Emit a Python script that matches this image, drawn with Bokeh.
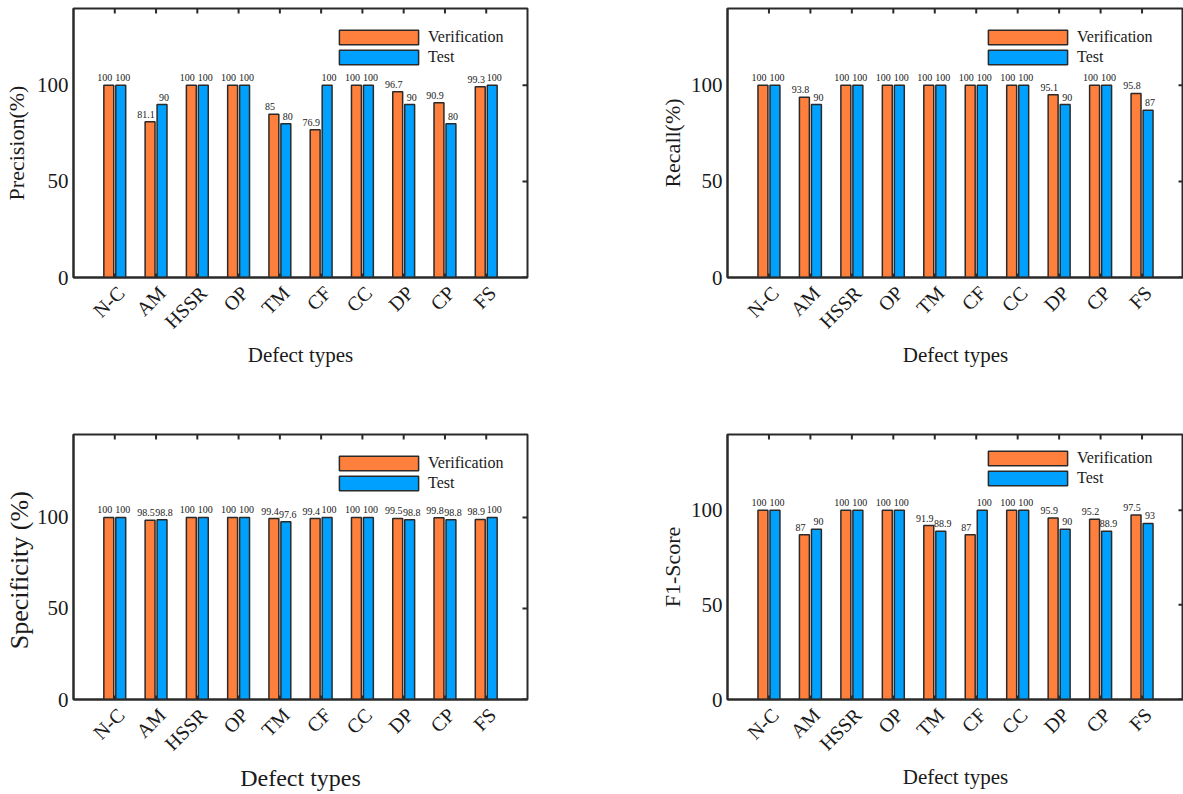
import numpy as np
from bokeh.plotting import figure
from bokeh.models import (ColumnDataSource, LinearAxis, FixedTicker, Range1d,
                          Legend, LegendItem)
from bokeh.transform import dodge
from bokeh.layouts import gridplot
from bokeh.embed import file_html
from bokeh.resources import INLINE
from bokeh.core.properties import value

# ---------------- data ----------------
categories = ["N-C", "AM", "HSSR", "OP", "TM", "CF", "CC", "DP", "CP", "FS"]
series_names = ["Verification", "Test"]

precision_verification = [100, 81.1, 100, 100, 85, 76.9, 100, 96.7, 90.9, 99.3]
precision_test = [100, 90, 100, 100, 80, 100, 100, 90, 80, 100]

recall_verification = [100, 93.8, 100, 100, 100, 100, 100, 95.1, 100, 95.8]
recall_test = [100, 90, 100, 100, 100, 100, 100, 90, 100, 87]

specificity_verification = [100, 98.5, 100, 100, 99.4, 99.4, 100, 99.5, 99.8, 98.9]
specificity_test = [100, 98.8, 100, 100, 97.6, 100, 100, 98.8, 98.8, 100]

f1_verification = [100, 87, 100, 100, 91.9, 87, 100, 95.9, 95.2, 97.5]
f1_test = [100, 90, 100, 100, 88.9, 100, 100, 90, 88.9, 93]

y_ticks = [0, 50, 100]
x_title = "Defect types"

# ---------------- style ----------------
ORANGE = "#FF7F3D"
BLUE = "#00A0FF"
EDGE = "#2a2a2a"
INK = "#1a1a1a"
SERIF = "Liberation Serif"
BAR_W = 0.24
OFF = 0.145
LABEL_SHIFT = 0.15   # rotated category labels end slightly right of the category centre


def fmt(v):
    return f"{v:g}"


def panel(ver, tst, ylabel, ymax, width, height, bl, br, bt, bb,
          ylab_size, xlab_size, ylab_standoff, xlab_standoff, leg_x,
          tick_standoff=12):
    n = len(categories)
    xs = list(range(1, n + 1))
    xmax = n + 1
    p = figure(width=width, height=height, output_backend="svg",
               toolbar_location=None, x_range=Range1d(0, xmax),
               y_range=Range1d(0, ymax), x_axis_type=None, y_axis_type=None,
               min_border_left=bl, min_border_right=br,
               min_border_top=bt, min_border_bottom=bb)
    p.xgrid.visible = False
    p.ygrid.visible = False
    p.outline_line_color = EDGE
    p.outline_line_width = 2
    p.background_fill_color = "white"
    p.border_fill_color = "white"

    src = ColumnDataSource(dict(
        x=xs, cat=categories, ver=ver, tst=tst,
        ver_lbl=[fmt(v) for v in ver], tst_lbl=[fmt(v) for v in tst]))

    r1 = p.vbar(x=dodge("x", -OFF, range=p.x_range), top="ver", width=BAR_W,
                source=src, fill_color=ORANGE, line_color=EDGE, line_width=1.5)
    r2 = p.vbar(x=dodge("x", OFF, range=p.x_range), top="tst", width=BAR_W,
                source=src, fill_color=BLUE, line_color=EDGE, line_width=1.5)

    p.text(x=dodge("x", -OFF, range=p.x_range), y="ver", text="ver_lbl",
           source=src, text_align="center", text_baseline="bottom",
           x_offset=-4, y_offset=-4, text_font=value(SERIF),
           text_font_size="10px", text_color=INK)
    p.text(x=dodge("x", OFF, range=p.x_range), y="tst", text="tst_lbl",
           source=src, text_align="center", text_baseline="bottom",
           x_offset=2, y_offset=-4, text_font=value(SERIF),
           text_font_size="10px", text_color=INK)

    # inward tick marks: top & bottom edge at categories, right edge at y ticks
    p.ray(x=xs, y=[ymax] * n, length=5, length_units="screen",
          angle=-np.pi / 2, line_color=EDGE, line_width=2)
    p.ray(x=xs, y=[0] * n, length=4, length_units="screen",
          angle=np.pi / 2, line_color=EDGE, line_width=2)
    p.ray(x=[xmax] * len(y_ticks), y=y_ticks, length=5, length_units="screen",
          angle=np.pi, line_color=EDGE, line_width=2)

    # bottom axis (category names)
    label_pos = [x + LABEL_SHIFT for x in xs]
    xa = LinearAxis(ticker=FixedTicker(ticks=label_pos),
                    major_label_overrides={x: c for x, c in zip(label_pos, categories)})
    xa.major_label_orientation = np.pi / 4
    xa.major_tick_in = 0
    xa.major_tick_out = 0
    xa.minor_tick_line_color = None
    xa.axis_line_width = 2
    xa.axis_line_color = EDGE
    xa.major_label_text_font = SERIF
    xa.major_label_text_font_size = "20px"
    xa.major_label_text_color = INK
    xa.major_label_standoff = tick_standoff
    xa.axis_label = x_title
    xa.axis_label_text_font = SERIF
    xa.axis_label_text_font_size = xlab_size
    xa.axis_label_text_font_style = "normal"
    xa.axis_label_text_color = INK
    xa.axis_label_standoff = xlab_standoff
    p.add_layout(xa, "below")

    # left axis
    ya = LinearAxis(ticker=FixedTicker(ticks=y_ticks))
    ya.major_tick_in = 0
    ya.major_tick_out = 0
    ya.minor_tick_line_color = None
    ya.axis_line_width = 2
    ya.axis_line_color = EDGE
    ya.major_label_text_font = SERIF
    ya.major_label_text_font_size = "21px"
    ya.major_label_text_color = INK
    ya.major_label_standoff = 5
    ya.axis_label = ylabel
    ya.axis_label_text_font = SERIF
    ya.axis_label_text_font_size = ylab_size
    ya.axis_label_text_font_style = "normal"
    ya.axis_label_text_color = INK
    ya.axis_label_standoff = ylab_standoff
    p.add_layout(ya, "left")

    frame_h = height - bt - bb
    legend = Legend(items=[LegendItem(label=series_names[0], renderers=[r1]),
                           LegendItem(label=series_names[1], renderers=[r2])],
                    location=(leg_x, frame_h - 59))
    legend.padding = 0
    legend.margin = 0
    legend.spacing = 0
    legend.glyph_width = 99
    legend.glyph_height = 18
    legend.label_height = 20
    legend.label_standoff = 0
    legend.label_text_font = SERIF
    legend.label_text_font_size = "16px"
    legend.label_text_color = INK
    legend.border_line_alpha = 0
    legend.background_fill_alpha = 0
    p.add_layout(legend)
    return p


p1 = panel(precision_verification, precision_test, "Precision(%)", 140,
           width=650, height=426, bl=72, br=123, bt=8, bb=149,
           ylab_size="22px", xlab_size="21px", ylab_standoff=5,
           xlab_standoff=0, leg_x=256)
p2 = panel(recall_verification, recall_test, "Recall(%)", 140,
           width=533, height=426, bl=77, br=0, bt=8, bb=149,
           ylab_size="22px", xlab_size="21px", ylab_standoff=3,
           xlab_standoff=0, leg_x=251)
p3 = panel(specificity_verification, specificity_test, "Specificity  (%)", 145.6,
           width=650, height=368, bl=72, br=123, bt=8, bb=95,
           ylab_size="26px", xlab_size="24px", ylab_standoff=0,
           xlab_standoff=0, leg_x=256)
p4 = panel(f1_verification, f1_test, "F1-Score", 140,
           width=533, height=368, bl=77, br=0, bt=8, bb=90,
           ylab_size="22px", xlab_size="21px", ylab_standoff=3,
           xlab_standoff=0, leg_x=251, tick_standoff=12)

grid = gridplot([[p1, p2], [p3, p4]], toolbar_location=None)

open("out.html", "w").write(file_html(grid, INLINE))
